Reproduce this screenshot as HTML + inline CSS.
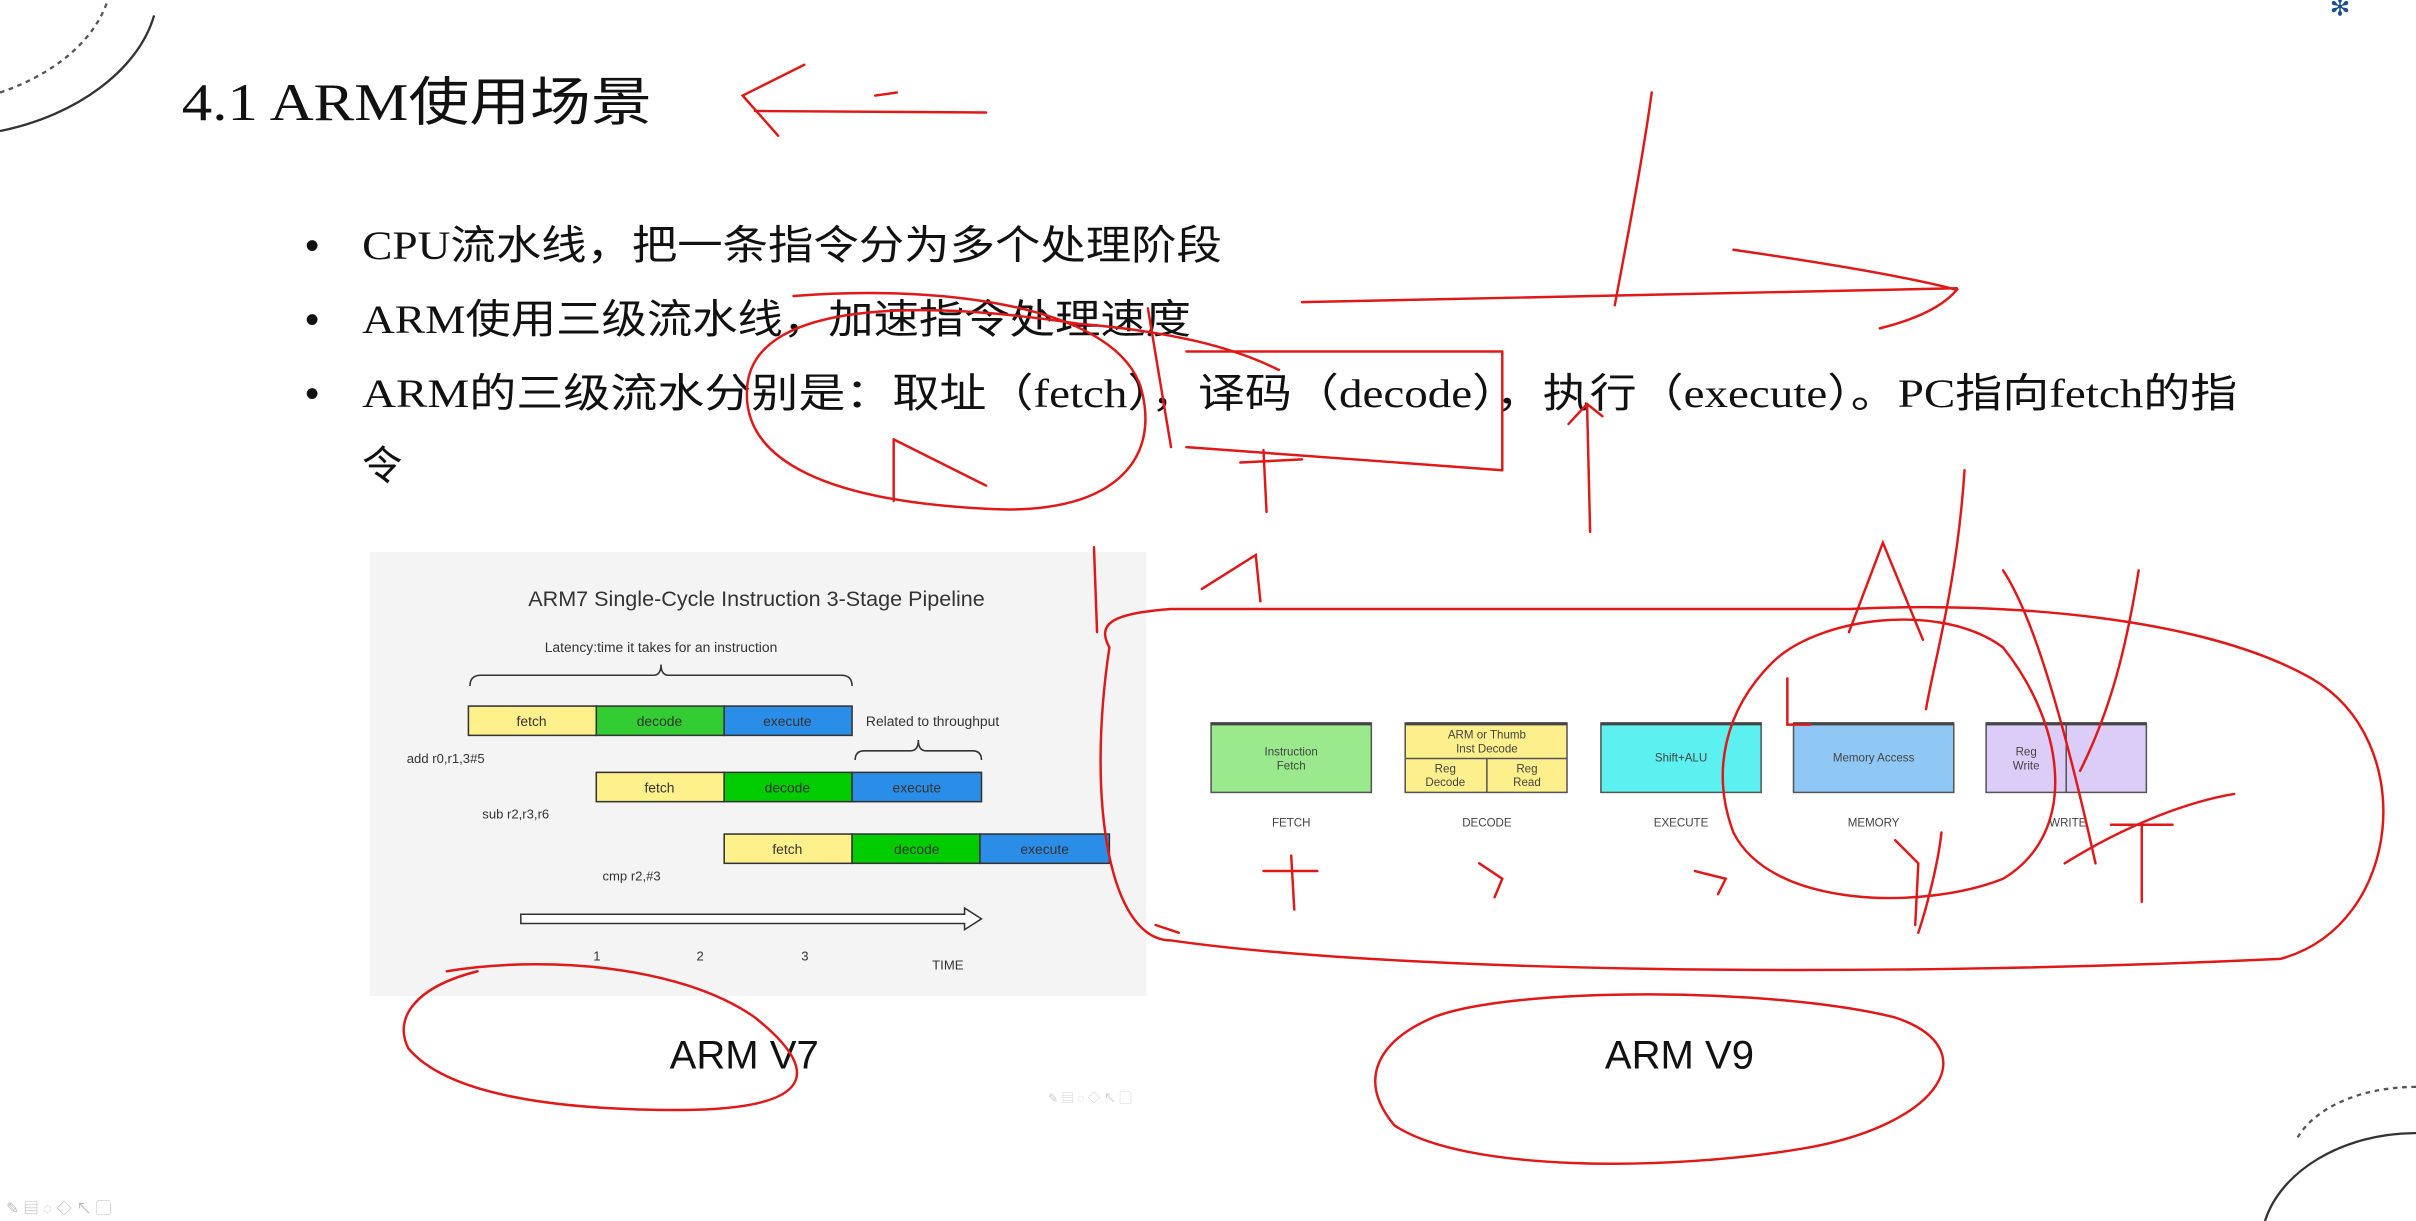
<!DOCTYPE html>
<html><head><meta charset="utf-8"><style>
html,body{margin:0;padding:0;background:#fff;}
svg{display:block;}
text{font-family:"Liberation Sans","Noto Sans CJK SC",sans-serif;}
.serif{font-family:"Liberation Serif","Noto Sans CJK SC",serif;}
</style></head><body>
<svg width="2416" height="1221" viewBox="0 0 1568 792" preserveAspectRatio="none" xmlns="http://www.w3.org/2000/svg">
<rect width="1568" height="792" fill="#fff"/>
<!-- corner decorations -->
<path d="M0,60 C30,50 60,30 70,0" fill="none" stroke="#555" stroke-width="1.5" stroke-dasharray="3,3"/>
<path d="M0,85 C50,75 90,45 100,10" fill="none" stroke="#333" stroke-width="1.5"/>
<path d="M1568,705 C1530,705 1500,720 1490,740" fill="none" stroke="#555" stroke-width="1.5" stroke-dasharray="3,3"/>
<path d="M1568,735 C1520,735 1480,760 1470,792" fill="none" stroke="#333" stroke-width="1.5"/>
<text x="1512" y="10" font-size="16" fill="#1b4f8a">✻</text>
<!-- title -->
<text x="118" y="78" font-size="34" class="serif" fill="#111" textLength="305" lengthAdjust="spacingAndGlyphs">4.1 ARM使用场景</text>
<!-- bullets -->
<g font-size="26" fill="#111" class="serif">
<text x="198" y="168">•</text><text x="235" y="168" class="serif" textLength="558" lengthAdjust="spacingAndGlyphs">CPU流水线，把一条指令分为多个处理阶段</text>
<text x="198" y="216">•</text><text x="235" y="216" class="serif" textLength="538" lengthAdjust="spacingAndGlyphs">ARM使用三级流水线，加速指令处理速度</text>
<text x="198" y="264">•</text><text x="235" y="264" class="serif" textLength="1217" lengthAdjust="spacingAndGlyphs">ARM的三级流水分别是：取址（fetch），译码（decode），执行（execute）。PC指向fetch的指</text>
<text x="235" y="311" class="serif">令</text>
</g>
<!-- left diagram -->
<rect x="240" y="358" width="504" height="288" fill="#f4f4f4"/>
<text x="491" y="393" font-size="14" text-anchor="middle" fill="#333">ARM7 Single-Cycle Instruction 3-Stage Pipeline</text>
<text x="429" y="423" font-size="9" text-anchor="middle" fill="#333">Latency:time it takes for an instruction</text>
<path d="M305,445 Q305,438 312,438 L424,438 Q429,438 429,431 Q429,438 434,438 L546,438 Q553,438 553,445" fill="none" stroke="#333" stroke-width="1"/>
<g font-size="9" text-anchor="middle" fill="#333" stroke="#333" stroke-width="1">
<rect x="304" y="458" width="83" height="19" fill="#fef08a"/><rect x="387" y="458" width="83" height="19" fill="#33cc33"/><rect x="470" y="458" width="83" height="19" fill="#2a8ee8"/>
<rect x="387" y="501" width="83" height="19" fill="#fef08a"/><rect x="470" y="501" width="83" height="19" fill="#00cc00"/><rect x="553" y="501" width="84" height="19" fill="#2a8ee8"/>
<rect x="470" y="541" width="83" height="19" fill="#fef08a"/><rect x="553" y="541" width="83" height="19" fill="#00cc00"/><rect x="636" y="541" width="84" height="19" fill="#2a8ee8"/>
</g>
<g font-size="9" text-anchor="middle" fill="#333">
<text x="345" y="471">fetch</text><text x="428" y="471">decode</text><text x="511" y="471">execute</text>
<text x="428" y="514">fetch</text><text x="511" y="514">decode</text><text x="595" y="514">execute</text>
<text x="511" y="554">fetch</text><text x="595" y="554">decode</text><text x="678" y="554">execute</text>
</g>
<text x="562" y="471" font-size="9" fill="#333">Related to throughput</text>
<path d="M555,493 Q555,487 561,487 L591,487 Q596,487 596,480 Q596,487 601,487 L631,487 Q637,487 637,493" fill="none" stroke="#333" stroke-width="1"/>
<g font-size="8.5" fill="#333">
<text x="264" y="495">add r0,r1,3#5</text><text x="313" y="531">sub r2,r3,r6</text><text x="391" y="571">cmp r2,#3</text>
<text x="385" y="623">1</text><text x="452" y="623">2</text><text x="520" y="623">3</text><text x="605" y="629">TIME</text>
</g>
<path d="M338,593 L626,593 L626,589 L637,596 L626,603 L626,599 L338,599 Z" fill="#fff" stroke="#333" stroke-width="1"/>
<!-- right diagram -->
<g stroke="#555" stroke-width="1">
<rect x="786" y="469" width="104" height="45" fill="#9ae98c"/>
<rect x="912" y="469" width="105" height="45" fill="#fdef8c"/>
<line x1="912" y1="492" x2="1017" y2="492"/><line x1="965" y1="492" x2="965" y2="514"/>
<rect x="1039" y="469" width="104" height="45" fill="#5cf0f0"/>
<rect x="1164" y="469" width="104" height="45" fill="#90c8f5"/>
<rect x="1289" y="469" width="104" height="45" fill="#dcccf8"/>
<line x1="1341" y1="469" x2="1341" y2="514"/>
</g>
<g stroke="#444" stroke-width="2"><line x1="786" y1="469.5" x2="890" y2="469.5"/><line x1="912" y1="469.5" x2="1017" y2="469.5"/><line x1="1039" y1="469.5" x2="1143" y2="469.5"/><line x1="1164" y1="469.5" x2="1268" y2="469.5"/><line x1="1289" y1="469.5" x2="1393" y2="469.5"/></g>
<g font-size="7.5" text-anchor="middle" fill="#444">
<text x="838" y="490">Instruction</text><text x="838" y="499">Fetch</text>
<text x="965" y="479">ARM or Thumb</text><text x="965" y="488">Inst Decode</text>
<text x="938" y="501">Reg</text><text x="938" y="510">Decode</text><text x="991" y="501">Reg</text><text x="991" y="510">Read</text>
<text x="1091" y="494">Shift+ALU</text><text x="1216" y="494">Memory Access</text>
<text x="1315" y="490">Reg</text><text x="1315" y="499">Write</text>
<text x="838" y="536">FETCH</text><text x="965" y="536">DECODE</text><text x="1091" y="536">EXECUTE</text><text x="1216" y="536">MEMORY</text><text x="1342" y="536">WRITE</text>
</g>
<text x="483" y="693" font-size="26" text-anchor="middle" fill="#111">ARM V7</text>
<text x="1090" y="693" font-size="26" text-anchor="middle" fill="#111">ARM V9</text>
<!-- bottom toolbar -->
<text x="4" y="787" font-size="10" fill="#bbb">✎ ▤ ◌ ◇ ↖ ▢</text>
<text x="680" y="715" font-size="8" fill="#ccc">✎ ▤ ◌ ◇ ↖ ▢</text>
<!-- red annotations -->
<g fill="none" stroke="#e01818" stroke-width="1.6" stroke-linecap="round">
<path d="M490,72 L640,73"/><path d="M522,42 L482,62 L505,88"/><path d="M568,62 L582,60"/>
<path d="M1072,60 C1065,110 1055,160 1048,198"/>
<path d="M845,196 C980,193 1120,190 1270,187"/><path d="M1125,162 C1180,170 1240,180 1270,188 C1260,200 1240,208 1220,213"/>
<path d="M515,192 C600,185 720,195 740,250 C755,300 720,335 640,330 C540,325 480,300 485,250 C490,200 580,192 700,210 C760,215 800,225 830,240"/>
<path d="M580,285 L580,325"/><path d="M580,285 L640,315"/>
<path d="M770,290 L975,305"/><path d="M975,228 L975,305"/><path d="M770,228 L975,228"/><path d="M745,200 L760,290"/>
<path d="M820,292 L822,332"/><path d="M805,300 L845,298"/>
<path d="M1030,262 L1032,345"/><path d="M1018,275 L1030,262 L1040,270"/>
<path d="M710,355 L712,410"/><path d="M780,382 L815,360 L818,390"/>
<path d="M720,420 C705,520 720,610 760,610 C900,630 1200,635 1480,622 C1560,600 1570,480 1500,440 C1430,400 1300,390 1200,395 L760,395 C720,398 712,405 720,420"/>
<path d="M1150,430 C1180,400 1260,390 1300,420 C1340,470 1350,540 1300,570 C1250,590 1150,590 1125,540 C1110,500 1120,460 1150,430"/>
<path d="M1160,440 L1160,470 L1175,470"/><path d="M1200,410 L1222,352 L1248,415"/><path d="M1275,305 C1270,380 1255,430 1250,460"/>
<path d="M1300,370 C1320,400 1340,470 1360,560"/><path d="M1388,370 C1380,420 1370,460 1350,500"/>
<path d="M1340,560 C1380,535 1420,520 1450,515"/><path d="M1370,535 L1410,535"/><path d="M1390,535 L1390,585"/>
<path d="M1230,545 L1245,560 L1243,600"/><path d="M1260,540 C1258,560 1250,590 1245,605"/>
<path d="M820,565 L855,565"/><path d="M838,555 L840,590"/><path d="M960,560 L975,570 L970,582"/><path d="M1100,565 L1120,570 L1115,580"/>
<path d="M290,630 C350,620 440,625 490,660 C540,700 520,720 440,720 C360,720 290,710 265,680 C255,660 270,640 310,630"/>
<path d="M930,660 C980,640 1150,640 1230,660 C1290,680 1260,730 1170,745 C1080,760 950,760 905,730 C880,700 895,675 930,660"/>
<path d="M750,600 L765,605"/>
</g>
</svg>
</body></html>
